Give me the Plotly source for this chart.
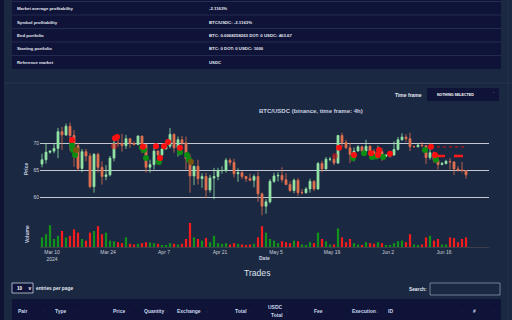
import pandas as pd
import plotly.graph_objects as go

# ---------------- data (BTC/USDC, daily, thousands of USDC) ----------------
first_day = "2024-03-07 12:00"
opens = [66.1, 66.9, 68.3, 68.5, 69.0, 72.1, 71.5, 73.1, 71.4, 69.5, 65.3, 68.4, 67.6, 61.9, 67.9, 65.5, 63.8, 64.1, 67.2, 70.0, 69.9, 69.5, 70.8, 69.9, 69.7,
         71.3, 69.7, 65.5, 66.0, 68.5, 67.8, 68.9, 69.4, 71.6, 69.1, 70.6, 70.0, 67.1, 63.9, 65.7, 63.4, 63.8, 61.3, 63.5, 63.8, 64.9, 64.9, 66.8, 66.4, 64.3, 64.5, 63.8, 63.4, 63.1, 63.8,
         60.6, 58.3, 59.1, 62.9, 63.9, 64.0, 63.2, 62.3, 61.2, 63.1, 60.8, 60.8, 61.5, 62.9, 61.5, 66.2, 65.2, 67.0, 67.0, 66.3, 71.4, 70.1, 69.1, 67.9, 68.5, 69.3, 68.5, 69.4, 68.4, 67.6, 68.4,
         67.5, 67.8, 67.8, 68.8, 70.6, 71.1, 70.8, 69.3, 69.3, 69.6, 69.5, 67.3, 68.2, 66.8, 66.0, 66.2, 66.6, 66.5, 65.2, 65.0, 64.9]
highs = [68.0, 70.0, 68.6, 69.9, 72.8, 73.0, 73.6, 73.8, 72.4, 70.0, 68.9, 68.9, 68.1, 68.1, 68.2, 66.6, 65.9, 67.6, 71.2, 71.6, 71.7, 71.5, 70.9, 70.3, 71.4,
         71.3, 69.7, 66.9, 69.3, 68.7, 69.0, 70.3, 72.8, 71.8, 71.2, 71.3, 71.2, 67.9, 65.8, 66.9, 64.4, 64.5, 64.1, 65.4, 65.4, 65.7, 67.2, 67.2, 67.1, 65.3, 64.8, 63.9, 64.3, 64.2, 64.7,
         60.8, 59.6, 63.3, 64.5, 64.6, 65.5, 64.4, 62.9, 63.4, 63.5, 61.5, 61.8, 63.4, 63.1, 66.5, 66.7, 67.4, 67.4, 67.7, 71.5, 71.9, 70.6, 70.0, 69.2, 69.6, 69.5, 70.6, 69.6, 68.9, 69.5, 69.0,
         67.9, 68.4, 70.3, 71.1, 71.8, 71.6, 71.9, 69.5, 69.9, 70.2, 69.6, 70.0, 68.4, 67.3, 66.5, 66.9, 67.2, 66.6, 65.7, 66.5, 65.0]
lows = [65.5, 66.2, 68.0, 68.1, 67.2, 68.7, 71.3, 68.6, 65.6, 64.8, 64.6, 66.6, 61.6, 60.8, 64.5, 62.3, 63.1, 63.8, 66.6, 69.3, 68.4, 68.9, 69.1, 69.6, 69.6,
        68.1, 64.5, 64.5, 65.1, 66.0, 67.5, 68.8, 69.0, 68.2, 67.5, 69.6, 65.1, 60.8, 62.2, 62.3, 61.7, 59.8, 60.8, 59.6, 63.1, 64.3, 64.5, 65.8, 63.6, 62.8, 63.3, 62.8, 62.9, 61.8, 59.1,
        56.6, 56.9, 58.8, 62.6, 62.9, 62.7, 62.2, 60.9, 60.7, 60.2, 60.5, 60.6, 60.8, 61.1, 61.3, 64.6, 65.1, 66.6, 65.9, 66.1, 69.2, 68.9, 66.3, 66.6, 68.5, 68.2, 68.3, 67.3, 67.1, 67.1, 66.7,
        67.4, 67.3, 67.6, 68.6, 70.4, 70.2, 68.5, 69.2, 69.2, 69.2, 66.1, 66.9, 66.3, 65.1, 65.9, 66.0, 65.1, 64.1, 64.7, 64.5, 63.4]
closes = [66.9, 68.3, 68.5, 69.0, 72.1, 71.5, 73.1, 71.4, 69.5, 65.3, 68.4, 67.6, 61.9, 67.9, 65.5, 63.8, 64.1, 67.2, 70.0, 69.9, 69.5, 70.8, 69.9, 69.7, 71.3,
          69.7, 65.5, 66.0, 68.5, 67.8, 68.9, 69.4, 71.6, 69.1, 70.6, 70.0, 67.1, 63.9, 65.7, 63.4, 63.8, 61.3, 63.5, 63.8, 64.9, 64.9, 66.8, 66.4, 64.3, 64.5, 63.8, 63.4, 63.1, 63.8, 60.6,
          58.3, 59.1, 62.9, 63.9, 64.0, 63.2, 62.3, 61.2, 63.1, 60.8, 60.8, 61.5, 62.9, 61.5, 66.2, 65.2, 67.0, 67.0, 66.3, 71.4, 70.1, 69.1, 67.9, 68.5, 69.3, 68.5, 69.4, 68.4, 67.6, 68.4, 67.5,
          67.8, 67.8, 68.8, 70.6, 71.1, 70.8, 69.3, 69.3, 69.6, 69.5, 67.3, 68.2, 66.8, 66.0, 66.2, 66.6, 66.5, 65.2, 65.0, 64.9, 64.1]
volumes = [30, 40, 68, 25, 35, 50, 30, 35, 55, 45, 25, 20, 45, 50, 65, 40, 45, 20, 18, 15, 12, 30, 10, 8, 10,
           12, 15, 14, 12, 10, 6, 6, 12, 10, 8, 10, 25, 75, 30, 25, 20, 28, 15, 35, 12, 10, 12, 8, 12, 10, 8, 6, 8, 10, 30,
           65, 45, 25, 20, 12, 18, 15, 12, 20, 18, 8, 6, 15, 12, 45, 25, 18, 8, 8, 58, 30, 15, 25, 12, 8, 6, 15, 12, 10, 15, 12,
           5, 6, 12, 18, 20, 15, 40, 8, 6, 8, 30, 35, 20, 25, 8, 8, 30, 28, 15, 25, 30]

buy_times = ["2024-03-15 00:00", "2024-03-15 06:00", "2024-03-15 18:00", "2024-03-16 00:00", "2024-04-01 12:00",
             "2024-04-02 00:00", "2024-04-02 12:00", "2024-04-05 18:00", "2024-04-11 00:00", "2024-04-12 18:00",
             "2024-04-13 06:00", "2024-04-13 18:00", "2024-05-24 06:00", "2024-05-27 00:00", "2024-05-29 00:00",
             "2024-05-30 00:00", "2024-05-31 18:00", "2024-06-11 06:00", "2024-06-14 00:00"]
buy_prices = [69.6, 68.7, 67.8, 68.7, 69.1, 68.7, 67.2, 66.5, 68.3, 67.8, 66.9, 66.5, 67.2, 68.1, 67.4, 67.5, 67.4, 68.7, 66.9]

sell_times = ["2024-03-15 00:00", "2024-03-25 12:00", "2024-03-25 18:00", "2024-03-26 06:00", "2024-04-01 18:00",
              "2024-04-05 00:00", "2024-04-06 00:00", "2024-04-07 00:00", "2024-04-08 00:00", "2024-04-11 00:00",
              "2024-05-19 18:00", "2024-05-20 18:00", "2024-05-24 12:00", "2024-05-28 18:00", "2024-05-30 12:00",
              "2024-05-30 18:00", "2024-06-02 12:00", "2024-06-12 18:00", "2024-06-13 18:00",
              "2024-03-16 00:00", "2024-04-13 18:00"]
sell_prices = [70.55, 69.4, 70.9, 71.1, 69.3, 69.4, 67.2, 69.4, 70.2, 69.1, 67.6, 69.1, 67.8, 68.1, 67.8, 68.7, 68.0, 69.3, 67.8, 68.7, 66.5]
sell_alpha = [1, 0.55, 1, 1, 1, 1, 1, 1, 1, 1, 0.45, 1, 1, 1, 1, 1, 1, 1, 1, 0.45, 0.45]

order1_times = ["2024-06-12 18:00", "2024-06-21 12:00"]
order1_prices = [69.3, 69.3]
order2_times = ["2024-06-14 00:00", "2024-06-21 12:00"]
order2_prices = [67.6, 67.6]

x_tick_vals = ["2024-03-10", "2024-03-24", "2024-04-07", "2024-04-21", "2024-05-05", "2024-05-19", "2024-06-02", "2024-06-16"]
x_tick_text = ["Mar 10<br>2024", "Mar 24", "Apr 7", "Apr 21", "May 5", "May 19", "Jun 2", "Jun 16"]
price_ticks = [60, 65, 70]

summary_labels = ["Market average profitability", "Symbol profitability", "End portfolio", "Starting portfolio", "Reference market"]
summary_values = ["-2.1163%", "BTC/USDC: -2.1163%", "BTC: 0.0068258263 DOT: 0 USDC: 463.67", "BTC: 0 DOT: 0 USDC: 1000", "USDC"]

dates = pd.date_range(first_day, periods=len(opens), freq="D")
vol_colors = ["#12921a" if c >= o else "#f41c1c" for o, c in zip(opens, closes)]

# ---------------- style ----------------
W, H = 512, 320
FONT = "Liberation Sans, Arial, sans-serif"
PANEL = "#1b2841"
DARK = "#0f1337"
TXT = "#e4e8f2"


def px(x):
    return x / W


def py(y):
    return 1 - y / H


fig = go.Figure()
fig.add_trace(go.Candlestick(
    x=dates, open=opens, high=highs, low=lows, close=closes,
    xaxis="x", yaxis="y", whiskerwidth=0,
    increasing=dict(line=dict(color="#94e4a6", width=0.8), fillcolor="#94e4a6"),
    decreasing=dict(line=dict(color="#e0704f", width=0.8), fillcolor="#e0704f"),
    showlegend=False, hoverinfo="skip"))
fig.add_trace(go.Scatter(x=order1_times, y=order1_prices, mode="lines", xaxis="x", yaxis="y",
                         line=dict(color="#b51616", width=1.2, dash="dot"), showlegend=False, hoverinfo="skip"))
fig.add_trace(go.Scatter(x=order2_times, y=order2_prices, mode="lines", xaxis="x", yaxis="y",
                         line=dict(color="#ff1a1a", width=2.5, dash="dash"), showlegend=False, hoverinfo="skip"))
fig.add_trace(go.Scatter(x=buy_times, y=buy_prices, mode="markers", xaxis="x", yaxis="y",
                         marker=dict(color="#0b8c12", size=6), showlegend=False, hoverinfo="skip"))
fig.add_trace(go.Scatter(x=sell_times, y=sell_prices, mode="markers", xaxis="x", yaxis="y",
                         marker=dict(color="#ff1010", size=6, opacity=sell_alpha), showlegend=False, hoverinfo="skip"))
fig.add_trace(go.Bar(x=dates, y=volumes, xaxis="x2", yaxis="y2", marker=dict(color=vol_colors, line=dict(width=0)),
                     showlegend=False, hoverinfo="skip"))

xr = ["2024-03-07 00:00", "2024-06-27 06:00"]
xdom = [px(40), px(489)]
fig.update_layout(
    width=W, height=H, autosize=False,
    margin=dict(l=0, r=0, t=0, b=0),
    paper_bgcolor=PANEL, plot_bgcolor="rgba(0,0,0,0)",
    font=dict(family=FONT, color=TXT),
    bargap=0.45, showlegend=False,
    xaxis=dict(domain=xdom, range=xr, anchor="y", showticklabels=False, showgrid=False, zeroline=False,
               rangeslider=dict(visible=False), ticks=""),
    yaxis=dict(domain=[py(218), py(118)], range=[56.11, 74.63], anchor="x", tickvals=price_ticks, ticksuffix="k",
               showgrid=True, gridcolor="#c4c9d5", gridwidth=1, zeroline=False, showline=False, ticks="",
               tickfont=dict(size=5, color="#c9cfdb", family=FONT)),
    xaxis2=dict(domain=xdom, range=xr, anchor="y2", tickvals=x_tick_vals, ticktext=x_tick_text, showgrid=False,
                zeroline=False, showline=True, linecolor="#3a3f4c", linewidth=1, ticks="",
                tickfont=dict(size=5, color="#c9cfdb", family=FONT)),
    yaxis2=dict(domain=[py(247), py(222)], range=[0, 78], anchor="x2", showticklabels=False, showgrid=False,
                zeroline=False, showline=False),
)

shapes = []


def rect(x0, y0, x1, y1, fill, line=None, lw=0):
    shapes.append(dict(type="rect", xref="paper", yref="paper", x0=px(x0), x1=px(x1), y0=py(y1), y1=py(y0),
                       fillcolor=fill, line=dict(color=line or fill, width=lw), layer="below"))


def hline(x0, x1, y, color, lw=1):
    shapes.append(dict(type="line", xref="paper", yref="paper", x0=px(x0), x1=px(x1), y0=py(y), y1=py(y),
                       line=dict(color=color, width=lw), layer="below"))


rect(0, 0, 4, 320, "#0f1232")
rect(12, 0, 501, 69, DARK)
for yy in [1.5, 15, 28.5, 42, 55.5]:
    hline(12, 501, yy, "#222c50", 1)
hline(4, 512, 83, "#25324c", 1)
shapes.append(dict(type="line", xref="paper", yref="paper", x0=px(508), x1=px(508), y0=0, y1=1,
                   line=dict(color="#223049", width=1), layer="below"))
rect(427, 88, 499, 101, DARK)
rect(12, 283, 33, 293, DARK, "#c8d0e0", 0.8)
rect(430, 283, 500, 295, "rgba(0,0,0,0)", "#8a96aa", 0.8)
rect(12, 299, 501, 320, DARK)
fig.update_layout(shapes=shapes)

ann = []


def text(x, y, s, size, color=TXT, xanchor="left", bold=True, angle=0):
    ann.append(dict(x=px(x), y=py(y), xref="paper", yref="paper", text=("<b>%s</b>" % s) if bold else s,
                    showarrow=False, xanchor=xanchor, yanchor="middle", textangle=angle,
                    font=dict(size=size, color=color, family=FONT)))


for lab, val, yy in zip(summary_labels, summary_values, [8.3, 22.3, 35.3, 49, 62.7]):
    text(15, yy, lab, 4.3)
    text(207, yy, val, 4.3)

text(424, 94.5, "Time frame", 5, xanchor="right")
text(435, 94.5, "NOTHING SELECTED", 3.6, color="#ffffff")
text(491, 93, "ˇ", 4, color="#c0c8d8", bold=False)
text(256.5, 111, "BTC/USDC (binance, time frame: 4h)", 6, color="#c8cfe0")
text(26, 169, "Price", 5, color="#c8cfe0", xanchor="center", angle=-90)
text(27, 234, "Volume", 5, color="#c8cfe0", xanchor="center", angle=-90)
text(264.5, 258, "Date", 5, color="#c8cfe0", xanchor="center")
text(256.5, 273, "Trades", 8.6, color="#dde3ee", xanchor="center", bold=False)
text(15, 288, "10", 4.6, color="#ffffff")
text(29.5, 288, "∨", 4.6, color="#ffffff", xanchor="center")
text(34, 288, "entries per page", 4.8)
text(429, 289, "Search:", 4.8, xanchor="right")

HC = "#c8d6ee"
AC = "#3c4a6c"
headers = [("Pair", 15.5), ("Type", 53), ("Price", 111), ("Quantity", 142), ("Exchange", 175),
           ("Total", 233), ("Fee", 312), ("Execution", 350), ("ID", 386), ("#", 471)]
for h, xx in headers:
    text(xx, 311, h, 5, color=HC)
text(275.5, 307, "USDC", 5, color=HC, xanchor="center")
text(276.5, 314.5, "Total", 5, color=HC, xanchor="center")
for xx in [43, 77, 128, 167, 207, 250, 287, 326, 462, 494]:
    text(xx, 311, "↕", 4, color=AC, xanchor="center", bold=False)
text(377, 311, "↓", 4.5, color="#7f8aa6", xanchor="center", bold=False)

fig.update_layout(annotations=ann)
fig.write_html("out.html", config={"displayModeBar": False})
